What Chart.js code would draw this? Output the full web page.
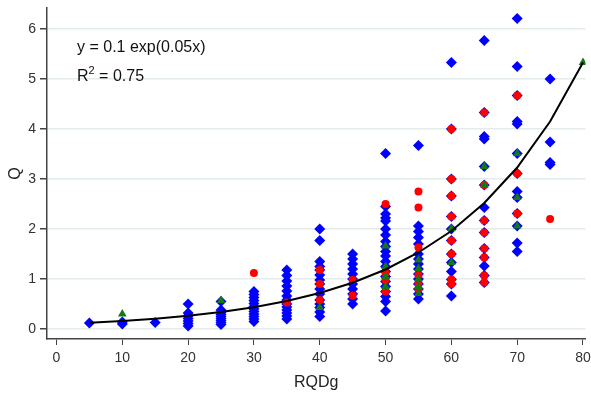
<!DOCTYPE html>
<html>
<head>
<meta charset="utf-8">
<script src="https://cdn.jsdelivr.net/npm/chart.js@4.4.1/dist/chart.umd.min.js"></script>
<style>
  html, body { margin: 0; padding: 0; background: #fff; }
  canvas { display: block; }
</style>
</head>
<body>
<canvas id="chart" width="591" height="396"></canvas>
<script>
// RQDg categories (x) and the Q values seen at each one
const rqdg = [5, 10, 15, 20, 25, 30, 35, 40, 45, 50, 55, 60, 65, 70, 75, 80];

const blueQ = [
  [0.12],
  [0.1, 0.14],
  [0.13],
  [0.5, 0.32, 0.26, 0.21, 0.16, 0.11, 0.06],
  [0.55, 0.38, 0.33, 0.29, 0.25, 0.21, 0.17, 0.13, 0.09],
  [0.75, 0.69, 0.63, 0.57, 0.51, 0.45, 0.4, 0.35, 0.3, 0.25, 0.2, 0.15],
  [1.18, 1.07, 0.96, 0.86, 0.76, 0.66, 0.58, 0.5, 0.44, 0.38, 0.32, 0.26, 0.2],
  [2.0, 1.77, 1.35, 1.25, 1.18, 1.08, 0.98, 0.9, 0.8, 0.7, 0.58, 0.5, 0.43, 0.34, 0.25],
  [1.5, 1.4, 1.3, 1.2, 1.1, 1.0, 0.9, 0.8, 0.7, 0.6, 0.5],
  [3.51, 2.45, 2.3, 2.22, 2.16, 2.0, 1.88, 1.75, 1.65, 1.55, 1.46, 1.35, 1.25, 1.15, 1.05, 0.95, 0.85, 0.75, 0.65, 0.55, 0.36],
  [3.67, 2.06, 1.95, 1.83, 1.7, 1.5, 1.4, 1.3, 1.2, 1.1, 1.0, 0.9, 0.8, 0.7, 0.6],
  [5.33, 4.0, 3.0, 2.66, 2.25, 2.0, 1.77, 1.5, 1.33, 1.15, 0.99, 0.9, 0.66],
  [5.77, 4.33, 3.85, 3.8, 3.25, 2.88, 2.43, 2.17, 1.93, 1.61, 1.43, 1.26, 1.07, 0.93],
  [6.21, 5.25, 4.67, 4.15, 4.1, 3.51, 3.11, 2.75, 2.63, 2.31, 2.06, 1.72, 1.55],
  [5.0, 3.74, 3.33, 3.29],
  []
];

const redQ = [
  [], [], [], [], [],
  [1.12],
  [0.53],
  [1.18, 0.9, 0.58],
  [0.98, 0.67],
  [2.5, 1.12, 0.98, 0.75],
  [2.75, 2.43, 1.63, 1.08, 0.91, 0.79],
  [4.0, 3.0, 2.66, 2.25, 1.77, 1.5, 0.99, 0.9],
  [4.33, 2.88, 2.17, 1.93, 1.61, 1.43, 1.07, 0.93],
  [4.67, 3.11, 2.31],
  [2.2],
  []
];

const greenQ = [
  [],
  [0.3],
  [], [],
  [0.57],
  [], [],
  [0.43],
  [],
  [1.66, 1.25, 1.05, 0.85],
  [1.38, 1.21, 1.0, 0.85, 0.71],
  [2.01, 1.33],
  [3.25, 2.88],
  [3.51, 2.63, 2.06],
  [],
  [5.33]
];

// fitted curve at each category
const trendQ = [0.125, 0.161, 0.207, 0.265, 0.341, 0.437, 0.562, 0.721, 0.926, 1.19, 1.53, 1.96, 2.52, 3.23, 4.15, 5.33];

const xTicks = [0, 10, 20, 30, 40, 50, 60, 70, 80];
const yTicks = [0, 1, 2, 3, 4, 5, 6];

const toPoints = (cols) => {
  const pts = [];
  cols.forEach((qs, i) => {
    qs.forEach((q) => pts.push({ x: rqdg[i], y: q }));
  });
  return pts;
};

const annotation = {
  id: 'annotation',
  afterDraw(chart) {
    const ctx = chart.ctx;
    const left = chart.chartArea.left + 30;
    ctx.save();
    ctx.fillStyle = '#111';
    ctx.font = '16px "Liberation Sans", Arial, sans-serif';
    ctx.textBaseline = 'alphabetic';
    ctx.fillText('y = 0.1 exp(0.05x)', left, 52);
    ctx.fillText('R', left, 81);
    const rw = ctx.measureText('R').width;
    ctx.font = '11px "Liberation Sans", Arial, sans-serif';
    ctx.fillText('2', left + rw, 74);
    const sw = ctx.measureText('2').width;
    ctx.font = '16px "Liberation Sans", Arial, sans-serif';
    ctx.fillText(' = 0.75', left + rw + sw, 81);
    ctx.restore();
  }
};

const tickFont = { family: '"Liberation Sans", Arial, sans-serif', size: 14 };
const titleFont = { family: '"Liberation Sans", Arial, sans-serif', size: 16 };

new Chart(document.getElementById('chart').getContext('2d'), {
  type: 'scatter',
  data: {
    datasets: [
      {
        type: 'line',
        label: 'fit',
        data: rqdg.map((x, i) => ({ x: x, y: trendQ[i] })),
        borderColor: '#000',
        borderWidth: 2,
        pointRadius: 0,
        fill: false,
        tension: 0
      },
      {
        label: 'green',
        data: toPoints(greenQ),
        pointStyle: 'triangle',
        pointRadius: 5,
        backgroundColor: '#137a13',
        borderWidth: 0
      },
      {
        label: 'red',
        data: toPoints(redQ),
        pointStyle: 'circle',
        pointRadius: 4,
        backgroundColor: '#ff0000',
        borderWidth: 0
      },
      {
        label: 'blue',
        data: toPoints(blueQ),
        pointStyle: 'rectRot',
        pointRadius: 5.5,
        backgroundColor: '#0000ff',
        borderWidth: 0
      }
    ]
  },
  options: {
    responsive: false,
    animation: false,
    events: [],
    layout: { padding: { top: 8, right: 1, left: 0, bottom: 0 } },
    plugins: {
      legend: { display: false },
      tooltip: { enabled: false }
    },
    scales: {
      x: {
        type: 'linear',
        min: -1.44,
        max: 80.38,
        afterBuildTicks: (scale) => { scale.ticks = xTicks.map((v) => ({ value: v })); },
        afterFit: (scale) => {
          scale.height = 57;
          scale.paddingLeft = 0;
          scale.paddingRight = 0;
        },
        grid: { drawOnChartArea: false, tickLength: 6, tickColor: '#444', lineWidth: 1 },
        border: { color: '#444', width: 1.5 },
        ticks: { font: tickFont, color: '#333', padding: 5, maxRotation: 0 },
        title: { display: true, text: 'RQDg', font: titleFont, color: '#222', padding: { top: 4, bottom: 4 } }
      },
      y: {
        type: 'linear',
        min: -0.2,
        max: 6.42,
        afterBuildTicks: (scale) => { scale.ticks = yTicks.map((v) => ({ value: v })); },
        afterFit: (scale) => {
          scale.width = 47;
          scale.paddingTop = 0;
          scale.paddingBottom = 0;
        },
        grid: { color: '#e3ebeb', lineWidth: 1.5, tickLength: 7, tickColor: '#444' },
        border: { color: '#444', width: 1.5 },
        ticks: { font: tickFont, color: '#333', padding: 4 },
        title: { display: true, text: 'Q', font: titleFont, color: '#222', padding: { top: 6, bottom: 4 } }
      }
    }
  },
  plugins: [annotation]
});
</script>
</body>
</html>
